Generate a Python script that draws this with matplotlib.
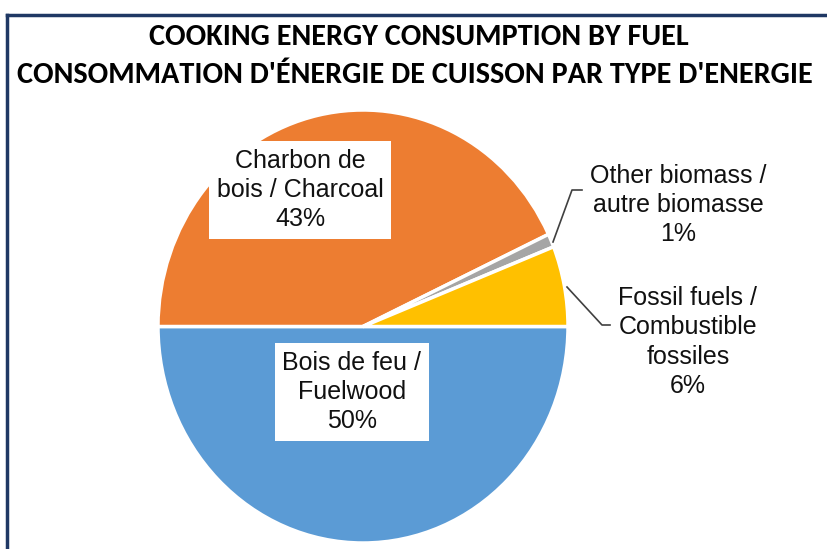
import matplotlib
matplotlib.use("Agg")
import matplotlib.pyplot as plt
from matplotlib.lines import Line2D

# data
categories = ["Bois de feu /\nFuelwood", "Charbon de\nbois / Charcoal",
              "Other biomass /\nautre biomasse", "Fossil fuels /\nCombustible\nfossiles"]
shares = [50, 43, 1, 6]
colors = ["#5B9BD5", "#ED7D31", "#A5A5A5", "#FFC000"]
title_lines = ["COOKING ENERGY CONSUMPTION BY FUEL",
               "CONSOMMATION D'ÉNERGIE DE CUISSON PAR TYPE D'ENERGIE"]

W, H = 828, 549
fig = plt.figure(figsize=(W / 100, H / 100), dpi=100)


def fx(px):
    return px / W


def fy(py):
    return 1 - py / H


# pie area (slightly taller than wide, as in the source)
ax = fig.add_axes([fx(158), fy(543), fx(568) - fx(158), fy(110) - fy(543)])
ax.pie(shares, colors=colors, startangle=0, counterclock=False, radius=1,
       wedgeprops=dict(edgecolor="white", linewidth=2.5))
ax.set_aspect("auto")
ax.set_xlim(-1, 1)
ax.set_ylim(-1, 1)
ax.axis("off")

# title
title_font = ["Carlito", "DejaVu Sans"]
fig.text(fx(419), fy(37), title_lines[0], ha="center", va="center",
         fontsize=21.8, fontweight="bold", family=title_font)
fig.text(fx(415), fy(75), title_lines[1], ha="center", va="center",
         fontsize=21.8, fontweight="bold", family=title_font)

# data labels
label_font = ["Liberation Sans", "DejaVu Sans"]
box = dict(boxstyle="square,pad=0.3", facecolor="white", edgecolor="none")
pos = [(352, 392, box), (300, 190, box), (678, 205, None), (688, 342, None)]
for name, val, (x, y, b) in zip(categories, shares, pos):
    fig.text(fx(x), fy(y), f"{name}\n{val}%", ha="center", va="center",
             fontsize=18, family=label_font, color="#111111",
             linespacing=1.28, bbox=b)

# leader lines
for xs, ys in [([553, 572, 582], [242, 190, 190]),
               ([567, 602, 610], [287, 325, 325])]:
    fig.add_artist(Line2D([fx(v) for v in xs], [fy(v) for v in ys],
                          color="#404040", linewidth=1.2))

# frame (top and left edges visible in the crop)
fig.add_artist(Line2D([fx(7), fx(W)], [fy(15), fy(15)], color="#1F3864", linewidth=2.5))
fig.add_artist(Line2D([fx(7), fx(7)], [fy(15), fy(H)], color="#1F3864", linewidth=2.5))

fig.savefig("out.png", dpi=100)
